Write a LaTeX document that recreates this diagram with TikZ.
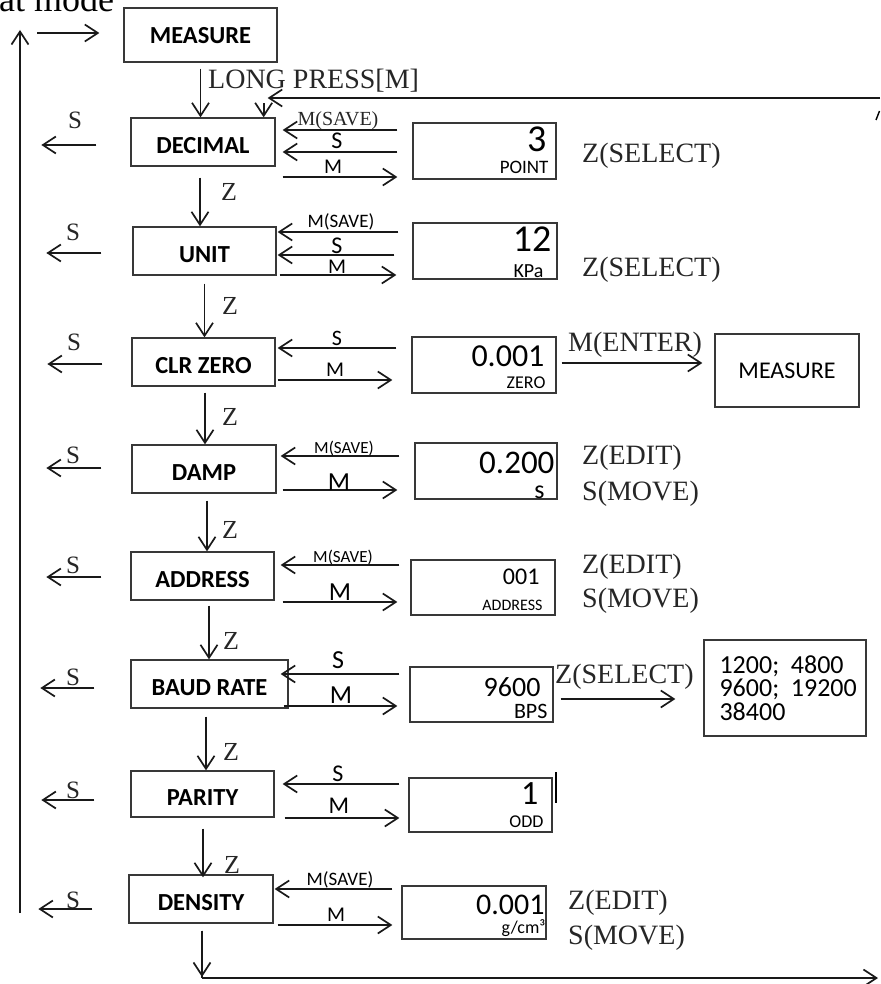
\documentclass[tikz,border=0pt]{standalone}
\usepackage{fontspec}
\setmainfont{Liberation Serif}
\newfontfamily\calfont{Carlito}
\usetikzlibrary{arrows.meta}
\newcommand\fsz[1]{\fontsize{#1}{#1}\selectfont}
\begin{document}
\begin{tikzpicture}[x=1pt,y=-1pt,
  arr/.style={line width=1.7pt, draw=black!90, -{Straight Barb[length=13pt,width=17pt,line width=1.7pt]}},
  plain/.style={line width=1.7pt, draw=black!90},
  box/.style={draw=black!78, line width=1.3pt, inner sep=0pt, text height=23.5pt, text depth=0pt, font=\calfont\bfseries\fsz{24.5}},
  vbox/.style={draw=black!78, line width=1.3pt, inner sep=0pt},
  num/.style={inner sep=0pt, anchor=base east, font=\calfont\fsz{#1}},
  lab/.style={inner sep=0pt, font=\calfont\fsz{#1}},
  ser/.style={inner sep=0pt, text=black!85, font=\fsz{#1}},
  serw/.style={inner sep=0pt, anchor=west, text=black!85, font=\fsz{#1}}
]
\useasboundingbox (0,0) rectangle (880,984);

% cut-off title
\node[anchor=base west, inner sep=0pt, font=\fsz{36}] (title) at (-1,12) {at mode};

% menu boxes
\node[box, minimum width=153pt, minimum height=54pt, text height=17.5pt] (m1) at (200.5,35) {MEASURE};
\node[box, minimum width=144pt, minimum height=48pt] (dec) at (203,142) {DECIMAL};
\node[box, minimum width=143pt, minimum height=48pt] (unit) at (204.5,251) {UNIT};
\node[box, minimum width=143pt, minimum height=48pt] (clr) at (203.5,362) {CLR ZERO};
\node[box, minimum width=144pt, minimum height=48pt] (damp) at (204,469) {DAMP};
\node[box, minimum width=143pt, minimum height=48pt] (addr) at (202.5,576) {ADDRESS};
\node[box, minimum width=157pt, minimum height=48pt] (baud) at (209.5,684) {BAUD RATE};
\node[box, minimum width=143pt, minimum height=46pt] (par) at (202.5,794) {PARITY};
\node[box, minimum width=144pt, minimum height=48pt] (dens) at (201,899) {DENSITY};

% value boxes
\node[vbox, minimum width=143pt, minimum height=56pt] (v1) at (484.5,151) {};
\node[vbox, minimum width=144pt, minimum height=56pt] (v2) at (485,251) {};
\node[vbox, minimum width=144pt, minimum height=56pt] (v3) at (484,365) {};
\node[vbox, minimum width=142pt, minimum height=56pt] (v4) at (486,471) {};
\node[vbox, minimum width=144pt, minimum height=55pt] (v5) at (483,587.5) {};
\node[vbox, minimum width=143pt, minimum height=55pt] (v6) at (481.5,694.5) {};
\node[vbox, minimum width=143pt, minimum height=54pt] (v7) at (480.5,805) {};
\node[vbox, minimum width=144pt, minimum height=53pt] (v8) at (474,912.5) {};

\node[num=38] (v1n) at ([xshift=-10pt,yshift=-29pt]v1.north east) {3};
\node[num=19] (v1u) at ([xshift=-8pt,yshift=6pt]v1.south east) {POINT};
\node[num=38] (v2n) at ([xshift=-6pt,yshift=-29pt]v2.north east) {12};
\node[num=20] (v2u) at ([xshift=-14pt,yshift=2pt]v2.south east) {KPa};
\node[num=32] (v3n) at ([xshift=-12pt,yshift=-30pt]v3.north east) {0.001};
\node[num=18] (v3u) at ([xshift=-11pt,yshift=5pt]v3.south east) {ZERO};
\node[num=33] (v4n) at ([xshift=-3pt,yshift=-31pt]v4.north east) {0.200};
\node[num=26] (v4u) at ([xshift=-13pt,yshift=1pt]v4.south east) {s};
\node[num=24] (v5n) at ([xshift=-16pt,yshift=-25pt]v5.north east) {001};
\node[num=16] (v5u) at ([xshift=-13pt,yshift=5pt]v5.south east) {ADDRESS};
\node[num=28] (v6n) at ([xshift=-13pt,yshift=-30pt]v6.north east) {9600};
\node[num=22] (v6u) at ([xshift=-6pt,yshift=4pt]v6.south east) {BPS};
\node[num=34] (v7n) at ([xshift=-14pt,yshift=-27pt]v7.north east) {1};
\node[num=18] (v7u) at ([xshift=-9pt,yshift=5pt]v7.south east) {ODD};
\node[num=30] (v8n) at ([xshift=-2pt,yshift=-29pt]v8.north east) {0.001};
\node[num=18] (v8u) at ([xshift=-1pt,yshift=6pt]v8.south east) {g/cm³};

% extra boxes
\node[vbox, minimum width=144pt, minimum height=73pt, font=\calfont\fsz{24}] (m2) at (787,370.5) {MEASURE};
\node[vbox, minimum width=162pt, minimum height=96pt] (opt) at (785,688) {};
\node[anchor=west, align=left, inner sep=0pt, font=\calfont\fontsize{26}{23.5}\selectfont] (optt) at ([xshift=16pt]opt.west) {1200;\hspace{.45em}4800\\9600;\hspace{.45em}19200\\38400};

% coordinates for free ends
\coordinate (ltop) at (20,30);
\coordinate (lbot) at (20,913);
\coordinate (lin) at (37,33);
\coordinate (rtop) at (880,98);
\coordinate (edgea) at (876,120);
\coordinate (edgeb) at (879.5,111);
\coordinate (bcorner) at (202,978);
\coordinate (bend) at (878,978);

% left return line
\draw[arr] (lbot) -- (ltop);
\draw[arr] (lin) -- ([xshift=-24pt]m1.west |- lin);

% long press
\draw[arr] ([yshift=-6pt]m1.south) -- (m1.south |- dec.north);
\node[serw=28] (lp) at (208,81) {LONG PRESS[M]};
\draw[arr] (rtop) -- ([xshift=-8pt]dec.north east |- rtop);
\draw[arr] ([xshift=-12pt,yshift=14pt]dec.north east) -- ([xshift=-12pt]dec.north east);
\draw[line width=1.4pt] (edgea) -- (edgeb);

% Z arrows down
\draw[arr] ([xshift=-3pt,yshift=-11pt]dec.south) -- ([xshift=-3pt]dec.south |- unit.north);
\draw[arr] ([yshift=-8pt]unit.south) -- (unit.south |- clr.north);
\draw[arr] ([xshift=1.5pt,yshift=-6pt]clr.south) -- ([xshift=1.5pt]clr.south |- damp.north);
\draw[arr] ([xshift=3pt,yshift=-7pt]damp.south) -- ([xshift=3pt]damp.south |- addr.north);
\draw[arr] ([xshift=6.5pt,yshift=-5pt]addr.south) -- ([xshift=6.5pt]addr.south |- baud.north);
\draw[arr] ([xshift=-3.5pt,yshift=-8pt]baud.south) -- ([xshift=-3.5pt]baud.south |- par.north);
\draw[arr] ([xshift=0.5pt,yshift=-11pt]par.south) -- ([xshift=0.5pt,yshift=-3pt]par.south |- dens.north);
\draw[plain] ([xshift=1pt,yshift=-7pt]dens.south) -- (bcorner);
\draw[arr] ([xshift=1pt,yshift=-7pt]dens.south) -- ([yshift=1pt]bcorner);
\draw[arr] (bcorner) -- (bend);

\node[ser=26] (z1) at (229,192) {Z};
\node[ser=26] (z2) at (230,306) {Z};
\node[ser=26] (z3) at (230,417) {Z};
\node[ser=26] (z4) at (230,530) {Z};
\node[ser=26] (z5) at (231,641) {Z};
\node[ser=26] (z6) at (231,752) {Z};
\node[ser=26] (z7) at (232,865) {Z};

% S arrows to the left
\draw[arr] ([xshift=-34pt]dec.west |- 0,145) -- ([xshift=-89pt]dec.west |- 0,145);
\draw[arr] ([xshift=-31pt]unit.west |- 0,253) -- ([xshift=-86pt]unit.west |- 0,253);
\draw[arr] ([xshift=-29pt]clr.west |- 0,364) -- ([xshift=-84pt]clr.west |- 0,364);
\draw[arr] ([xshift=-30pt]damp.west |- 0,468) -- ([xshift=-85pt]damp.west |- 0,468);
\draw[arr] ([xshift=-29pt]addr.west |- 0,577) -- ([xshift=-84pt]addr.west |- 0,577);
\draw[arr] ([xshift=-36pt]baud.west |- 0,688) -- ([xshift=-90pt]baud.west |- 0,688);
\draw[arr] ([xshift=-36pt]par.west |- 0,800) -- ([xshift=-89pt]par.west |- 0,800);
\draw[arr] ([xshift=-36pt]dens.west |- 0,909) -- ([xshift=-90pt]dens.west |- 0,909);

\node[ser=25] (s1) at (75,120) {S};
\node[ser=25] (s2) at (73,232) {S};
\node[ser=25] (s3) at (74,342) {S};
\node[ser=25] (s4) at (73,455) {S};
\node[ser=25] (s5) at (73,565) {S};
\node[ser=25] (s6) at (73,677) {S};
\node[ser=25] (s7) at (73,790) {S};
\node[ser=25] (s8) at (73,900) {S};

% DECIMAL row
\draw[arr] ([xshift=-15pt]v1.west |- 0,130) -- ([xshift=7pt]dec.east |- 0,130);
\draw[arr] ([xshift=-15pt]v1.west |- 0,152) -- ([xshift=7pt]dec.east |- 0,152);
\draw[arr] ([xshift=7pt]dec.east |- 0,177) -- ([xshift=-15pt]v1.west |- 0,177);
\node[ser=20] (l1a) at (338,121) {M(SAVE)};
\node[lab=24] (l1b) at (337,141) {S};
\node[lab=21] (l1c) at (333,167) {M};
\node[serw=28] (t1) at (582,156) {Z(SELECT)};

% UNIT row
\draw[arr] ([xshift=-14pt]v2.west |- 0,232) -- ([xshift=1pt]unit.east |- 0,232);
\draw[arr] ([xshift=-18pt]v2.west |- 0,255) -- ([xshift=1pt]unit.east |- 0,255);
\draw[arr] ([xshift=3pt]unit.east |- 0,275) -- ([xshift=-16pt]v2.west |- 0,275);
\node[lab=19] (l2a) at (341,222) {M(SAVE)};
\node[lab=24] (l2b) at (337,246) {S};
\node[lab=21] (l2c) at (337,267) {M};
\node[serw=28] (t2) at (582,270) {Z(SELECT)};

% CLR ZERO row
\draw[arr] ([xshift=-15pt]v3.west |- 0,348) -- ([xshift=2pt]clr.east |- 0,348);
\draw[arr] ([xshift=2pt]clr.east |- 0,380) -- ([xshift=-19pt]v3.west |- 0,380);
\node[lab=22] (l3b) at (337,338) {S};
\node[lab=21] (l3c) at (335,370) {M};
\draw[arr] ([xshift=5pt]v3.east |- 0,363) -- ([xshift=-12pt]m2.west |- 0,363);
\node[serw=28] (t3) at (568,345) {M(ENTER)};

% DAMP row
\draw[arr] ([xshift=-15pt]v4.west |- 0,456) -- ([xshift=4pt]damp.east |- 0,456);
\draw[arr] ([xshift=6pt]damp.east |- 0,490) -- ([xshift=-17pt]v4.west |- 0,490);
\node[lab=17] (l4a) at (344,448) {M(SAVE)};
\node[lab=26] (l4c) at (339,482) {M};
\node[serw=28] (t4a) at (582,458) {Z(EDIT)};
\node[serw=28] (t4b) at (582,494) {S(MOVE)};

% ADDRESS row
\draw[arr] ([xshift=-11pt]v5.west |- 0,565) -- ([xshift=6pt]addr.east |- 0,565);
\draw[arr] ([xshift=8pt]addr.east |- 0,602) -- ([xshift=-13pt]v5.west |- 0,602);
\node[lab=17] (l5a) at (343,557) {M(SAVE)};
\node[lab=26] (l5c) at (340,592) {M};
\node[serw=28] (t5a) at (582,567) {Z(EDIT)};
\node[serw=28] (t5b) at (582,601) {S(MOVE)};

% BAUD RATE row
\draw[arr] ([xshift=-10pt]v6.west |- 0,674) -- ([xshift=-8pt]baud.east |- 0,674);
\draw[arr] ([xshift=-5pt]baud.east |- 0,706) -- ([xshift=-12pt]v6.west |- 0,706);
\node[lab=26] (l6b) at (338,660) {S};
\node[lab=26] (l6c) at (341,695) {M};
\draw[arr] ([xshift=7pt]v6.east |- 0,699) -- ([xshift=-28pt]opt.west |- 0,699);
\node[serw=28] (t6) at (555,677) {Z(SELECT)};

% PARITY row
\draw[arr] ([xshift=-9pt]v7.west |- 0,784) -- ([xshift=8pt]par.east |- 0,784);
\draw[arr] ([xshift=10pt]par.east |- 0,818) -- ([xshift=-9pt]v7.west |- 0,818);
\node[lab=24] (l7b) at (338,774) {S};
\node[lab=24] (l7c) at (339,806) {M};
\draw[line width=2pt] ([xshift=3pt,yshift=5pt]v7.north east) -- ([xshift=3pt,yshift=-26pt]v7.north east);

% DENSITY row
\draw[arr] ([xshift=-9pt]v8.west |- 0,889) -- ([xshift=1pt]dens.east |- 0,889);
\draw[arr] ([xshift=4pt]dens.east |- 0,925) -- ([xshift=-9pt]v8.west |- 0,925);
\node[lab=19] (l8a) at (340,880) {M(SAVE)};
\node[lab=21] (l8c) at (336,915) {M};
\node[serw=28] (t8a) at (568,903) {Z(EDIT)};
\node[serw=28] (t8b) at (568,938) {S(MOVE)};
\end{tikzpicture}
\end{document}
